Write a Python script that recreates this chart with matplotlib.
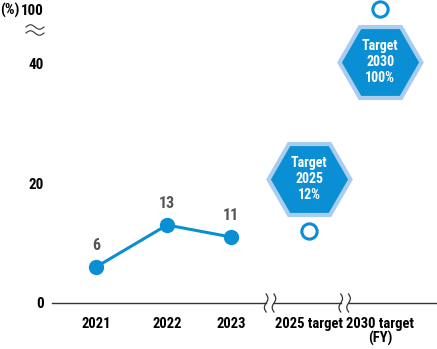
import numpy as np
import matplotlib
matplotlib.use("Agg")
import matplotlib.pyplot as plt
from matplotlib.lines import Line2D
from matplotlib.transforms import offset_copy

plt.rcParams['font.family'] = ['Roboto Condensed', 'DejaVu Sans']

# ---- data ----
categories = ["2021", "2022", "2023", "2025 target", "2030 target\n(FY)"]
actual_values = [6, 13, 11]
target_values = [12, 100]
target_labels = ["Target\n2025\n12%", "Target\n2030\n100%"]
ytick_values = [0, 20, 40, 100]

# ---- layout ----
W, H = 437, 349
x_slots = [0, 1, 1.9, 3.0, 4.0]
BLUE = "#0a8fd4"
LIGHT = "#a9cdf0"
FS = 10.5

def fwd(v):
    v = np.asarray(v, dtype=float)
    return np.where(v <= 44, v, 44 + (v - 44) * (5.0 / 56.0))

def inv(t):
    t = np.asarray(t, dtype=float)
    return np.where(t <= 44, t, 44 + (t - 44) * (56.0 / 5.0))

fig = plt.figure(figsize=(W / 100, H / 100), dpi=100)
ax = fig.add_axes([52 / W, 46 / H, 385 / W, 294 / H])
ax.set_yscale('function', functions=(fwd, inv))
ax.set_ylim(0, 100)
ax.set_xlim(-0.62, 4.80)
for s in ax.spines.values():
    s.set_visible(False)

# y ticks
ax.set_yticks(ytick_values)
ax.set_yticklabels([str(v) for v in ytick_values], fontsize=FS + 0.3, fontweight='bold')
ax.tick_params(axis='y', length=0, pad=6)
ax.yaxis.set_minor_locator(matplotlib.ticker.NullLocator())

# x ticks
ax.set_xticks(x_slots)
ax.set_xticklabels(categories, fontsize=FS, fontweight='bold', linespacing=1.05, va='top')
ax.tick_params(axis='x', length=0, pad=10)

fig.text(0 / W, 1 - 10 / H, "(%)", fontsize=FS + 0.3, fontweight='bold', ha='left', va='center')

# baseline with breaks
b1 = (x_slots[2] + x_slots[3]) / 2
b2 = (x_slots[3] + x_slots[4]) / 2
g = 0.055
segs = [(-0.62, b1 - g), (b1 + g, b2 - g), (b2 + g, 4.80)]
for a, b in segs:
    ax.plot([a, b], [0, 0], color="#333333", lw=1.0, clip_on=False, zorder=2)
yy = np.linspace(-1.5, 1.5, 40)
for xb in (b1, b2):
    for d in (-g, g):
        xx = xb + d + 0.025 * np.sin(yy / 1.5 * np.pi)
        ax.plot(xx, yy, color="#333333", lw=0.9, clip_on=False, zorder=3)

# y-axis break symbol
tt = np.linspace(0, 1, 40)
for yc in (27, 33):
    xs = (26 + 18 * tt) / W
    ys = 1 - (yc - 2.2 * np.sin(tt * 2 * np.pi)) / H
    fig.add_artist(Line2D(xs, ys, transform=fig.transFigure, color="#333333", lw=0.8))

# actual line
ax.plot(x_slots[:3], actual_values, color=BLUE, lw=2.2, marker='o', ms=10,
        mec=BLUE, mfc=BLUE, zorder=5, clip_on=False)
for x, v in zip(x_slots[:3], actual_values):
    ax.annotate(str(v), (x, v), xytext=(0, 10), textcoords='offset points',
                ha='center', va='bottom', fontsize=FS + 1, fontweight='bold',
                color="#555555")

# targets
for x, v, lab, dy in zip(x_slots[3:], target_values, target_labels, (52, -53)):
    ax.plot([x], [v], marker='o', ms=11, mfc='white', mec=BLUE, mew=2.2,
            zorder=5, clip_on=False)
    tr = offset_copy(ax.transData, fig=fig, x=0, y=dy, units='dots')
    ax.plot([x], [v], marker='H', ms=59, mfc=BLUE, mec=LIGHT, mew=3,
            transform=tr, zorder=4, clip_on=False)
    ax.text(x, v, lab, transform=tr, ha='center', va='center', color='white',
            fontsize=10, fontweight='bold', linespacing=1.2, zorder=6,
            multialignment='center')

fig.savefig("out.png", dpi=100)
